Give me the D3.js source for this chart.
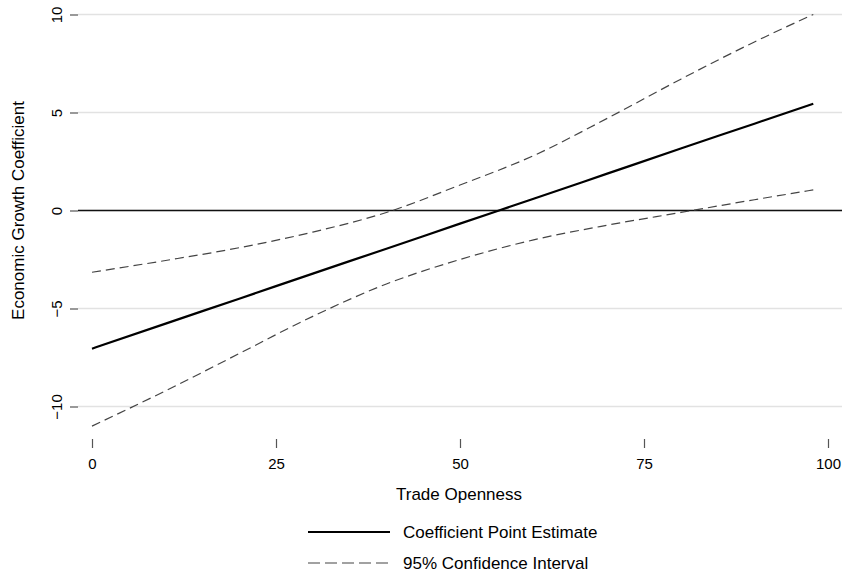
<!DOCTYPE html>
<html><head><meta charset="utf-8">
<script src="https://cdn.jsdelivr.net/npm/d3@7"></script>
<style>body{margin:0;background:#fff}svg{display:block}text{font-family:"Liberation Sans",Arial,sans-serif;fill:#000}</style>
</head><body><svg id="c" width="842" height="575"></svg>
<script>
const xs = [0, 10, 20, 30, 40, 50, 60, 70, 80, 90, 98];
const estimate = [-7.05, -5.77, -4.50, -3.22, -1.95, -0.67, 0.60, 1.88, 3.16, 4.43, 5.45];
const upper = [-3.15, -2.55, -1.9, -1.1, -0.1, 1.3, 2.8, 4.7, 6.7, 8.6, 10.0];
const lower = [-11.0, -9.2, -7.3, -5.4, -3.75, -2.5, -1.5, -0.75, -0.1, 0.55, 1.05];
const xTicks = [0, 25, 50, 75, 100];
const yTicks = [-10, -5, 0, 5, 10];
const xTitle = "Trade Openness";
const yTitle = "Economic Growth Coefficient";
const legendLabels = ["Coefficient Point Estimate", "95% Confidence Interval"];

const svg = d3.select("#c");
const x = d3.scaleLinear().domain([0, 100]).range([92, 828]);
const y = d3.scaleLinear().domain([-10, 10]).range([406.5, 14.5]);
const gridL = 78, gridR = 842;

// gridlines
svg.append("g").selectAll("line").data(yTicks).join("line")
  .attr("x1", gridL).attr("x2", gridR)
  .attr("y1", d => y(d)).attr("y2", d => y(d))
  .attr("stroke", "#e2e2e2").attr("stroke-width", 1.6);

// y axis ticks/labels
const yAxis = d3.axisLeft(y).tickValues(yTicks).tickSize(8).tickFormat(d3.format("d"));
const gy = svg.append("g").attr("transform", `translate(${gridL},0)`).call(yAxis);
gy.select(".domain").remove();
gy.selectAll(".tick line").attr("stroke", "#555").attr("stroke-width", 1.2);
gy.selectAll(".tick text").attr("font-size", 15).attr("font-family", "Liberation Sans, Arial, sans-serif")
  .attr("fill", "#000").attr("text-anchor", "middle").attr("x", null).attr("dy", null)
  .attr("transform", "translate(-16,0) rotate(-90)");

// x axis ticks/labels
const xAxis = d3.axisBottom(x).tickValues(xTicks).tickSize(9).tickPadding(10).tickFormat(d3.format("d"));
const gx = svg.append("g").attr("transform", "translate(0,439)").call(xAxis);
gx.select(".domain").remove();
gx.selectAll(".tick line").attr("stroke", "#555").attr("stroke-width", 1.2);
gx.selectAll(".tick text").attr("font-size", 15).attr("font-family", "Liberation Sans, Arial, sans-serif").attr("fill", "#000");

// zero line
svg.append("line").attr("x1", gridL).attr("x2", gridR).attr("y1", y(0)).attr("y2", y(0))
  .attr("stroke", "#111").attr("stroke-width", 1.6);

const line = d3.line().x((d, i) => x(xs[i])).y(d => y(d)).curve(d3.curveMonotoneX);
[upper, lower].forEach(s => {
  svg.append("path").datum(s).attr("d", line).attr("fill", "none")
    .attr("stroke", "#444").attr("stroke-width", 1.2).attr("stroke-dasharray", "9,5");
});
svg.append("path").datum(estimate).attr("d", line).attr("fill", "none")
  .attr("stroke", "#000").attr("stroke-width", 2.2);

// titles
svg.append("text").attr("x", 459).attr("y", 500).attr("text-anchor", "middle").attr("font-size", 17).text(xTitle);
svg.append("text").attr("transform", `translate(24,${y(0)}) rotate(-90)`).attr("text-anchor", "middle").attr("font-size", 17).text(yTitle);

// legend
const lg = svg.append("g");
lg.append("line").attr("x1", 308).attr("x2", 390).attr("y1", 532).attr("y2", 532).attr("stroke", "#000").attr("stroke-width", 2);
lg.append("line").attr("x1", 308).attr("x2", 390).attr("y1", 563).attr("y2", 563).attr("stroke", "#444").attr("stroke-width", 1.2).attr("stroke-dasharray", "12,5");
lg.append("text").attr("x", 403).attr("y", 538).attr("font-size", 17).text(legendLabels[0]);
lg.append("text").attr("x", 403).attr("y", 569).attr("font-size", 17).text(legendLabels[1]);
</script></body></html>
